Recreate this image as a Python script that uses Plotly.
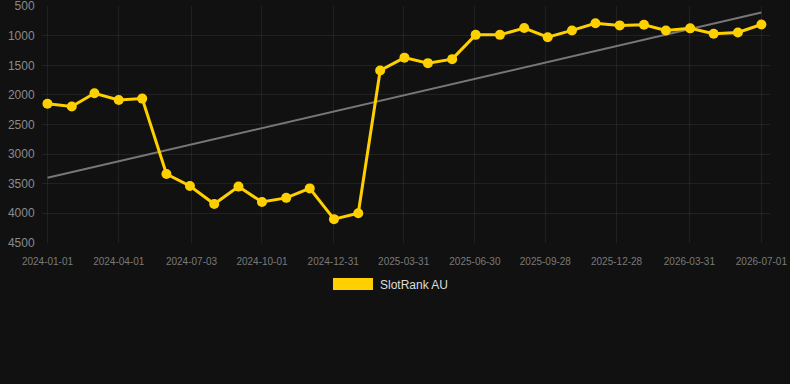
import plotly.graph_objects as go

dates = [
    "2024-01-01", "2024-02-01", "2024-03-01", "2024-04-01", "2024-05-01", "2024-06-01",
    "2024-07-01", "2024-08-01", "2024-09-01", "2024-10-01", "2024-11-01", "2024-12-01",
    "2025-01-01", "2025-02-01", "2025-03-01", "2025-04-01", "2025-05-01", "2025-06-01",
    "2025-07-01", "2025-08-01", "2025-09-01", "2025-10-01", "2025-11-01", "2025-12-01",
    "2026-01-01", "2026-02-01", "2026-03-01", "2026-04-01", "2026-05-01", "2026-06-01",
    "2026-07-01",
]
ranks = [
    2150, 2197, 1972, 2085, 2062, 3336,
    3540, 3845, 3550, 3810, 3740, 3580,
    4100, 4000, 1586, 1370, 1463, 1395,
    985, 985, 870, 1025, 910, 790,
    825, 815, 910, 875, 965, 945,
    810,
]
trend_dates = ["2024-01-01", "2026-07-01"]
trend_values = [3400, 608]

tick_vals = [
    "2024-01-01", "2024-04-01", "2024-07-03", "2024-10-01", "2024-12-31", "2025-03-31",
    "2025-06-30", "2025-09-28", "2025-12-28", "2026-03-31", "2026-07-01",
]
y_ticks = [500, 1000, 1500, 2000, 2500, 3000, 3500, 4000, 4500]

series_name = "SlotRank AU"
gold = "#FFD000"
bg = "#111111"
grid = "rgba(255,255,255,0.07)"

fig = go.Figure()
fig.add_trace(go.Scatter(
    x=trend_dates, y=trend_values, mode="lines",
    line=dict(color="#777777", width=2), showlegend=False, hoverinfo="skip",
))
fig.add_trace(go.Scatter(
    x=dates, y=ranks, mode="lines+markers", name=series_name,
    line=dict(color=gold, width=3), marker=dict(color=gold, size=10),
    showlegend=False, cliponaxis=False,
))

L, R, T, B = 42, 20, 6, 141
W, H = 790, 384
pw, ph = W - L - R, H - T - B

def px_x(px):
    return (px - L) / pw

def px_y(py):
    return (H - B - py) / ph

fig.add_shape(type="rect", xref="paper", yref="paper",
              x0=px_x(333), x1=px_x(373), y0=px_y(290), y1=px_y(278),
              fillcolor=gold, line=dict(width=0))
fig.add_annotation(xref="paper", yref="paper", x=px_x(378), y=px_y(284.5),
                   xanchor="left", yanchor="middle", showarrow=False,
                   text=series_name, font=dict(size=12, color="#dddddd"))

fig.update_layout(
    width=W, height=H,
    margin=dict(l=L, r=R, t=T, b=B),
    paper_bgcolor=bg, plot_bgcolor=bg,
    font=dict(family="Liberation Sans, Arial, sans-serif"),
    showlegend=False,
    xaxis=dict(
        type="date", range=["2023-12-25", "2026-07-12"],
        tickvals=tick_vals, ticktext=tick_vals,
        tickfont=dict(size=10, color="#7a7a7a"),
        showgrid=True, gridcolor=grid, gridwidth=1,
        zeroline=False, showline=False,
        ticks="outside", ticklen=9, tickcolor=bg,
        automargin=False, ticklabeloverflow="allow",
    ),
    yaxis=dict(
        range=[4503, 497], tickvals=y_ticks,
        tickfont=dict(size=12, color="#8a8a8a"),
        showgrid=True, gridcolor=grid, gridwidth=1,
        zeroline=False, showline=False,
        ticks="outside", ticklen=4, tickcolor=bg,
        automargin=False, ticklabeloverflow="allow",
    ),
)

fig.write_html("out.html")
